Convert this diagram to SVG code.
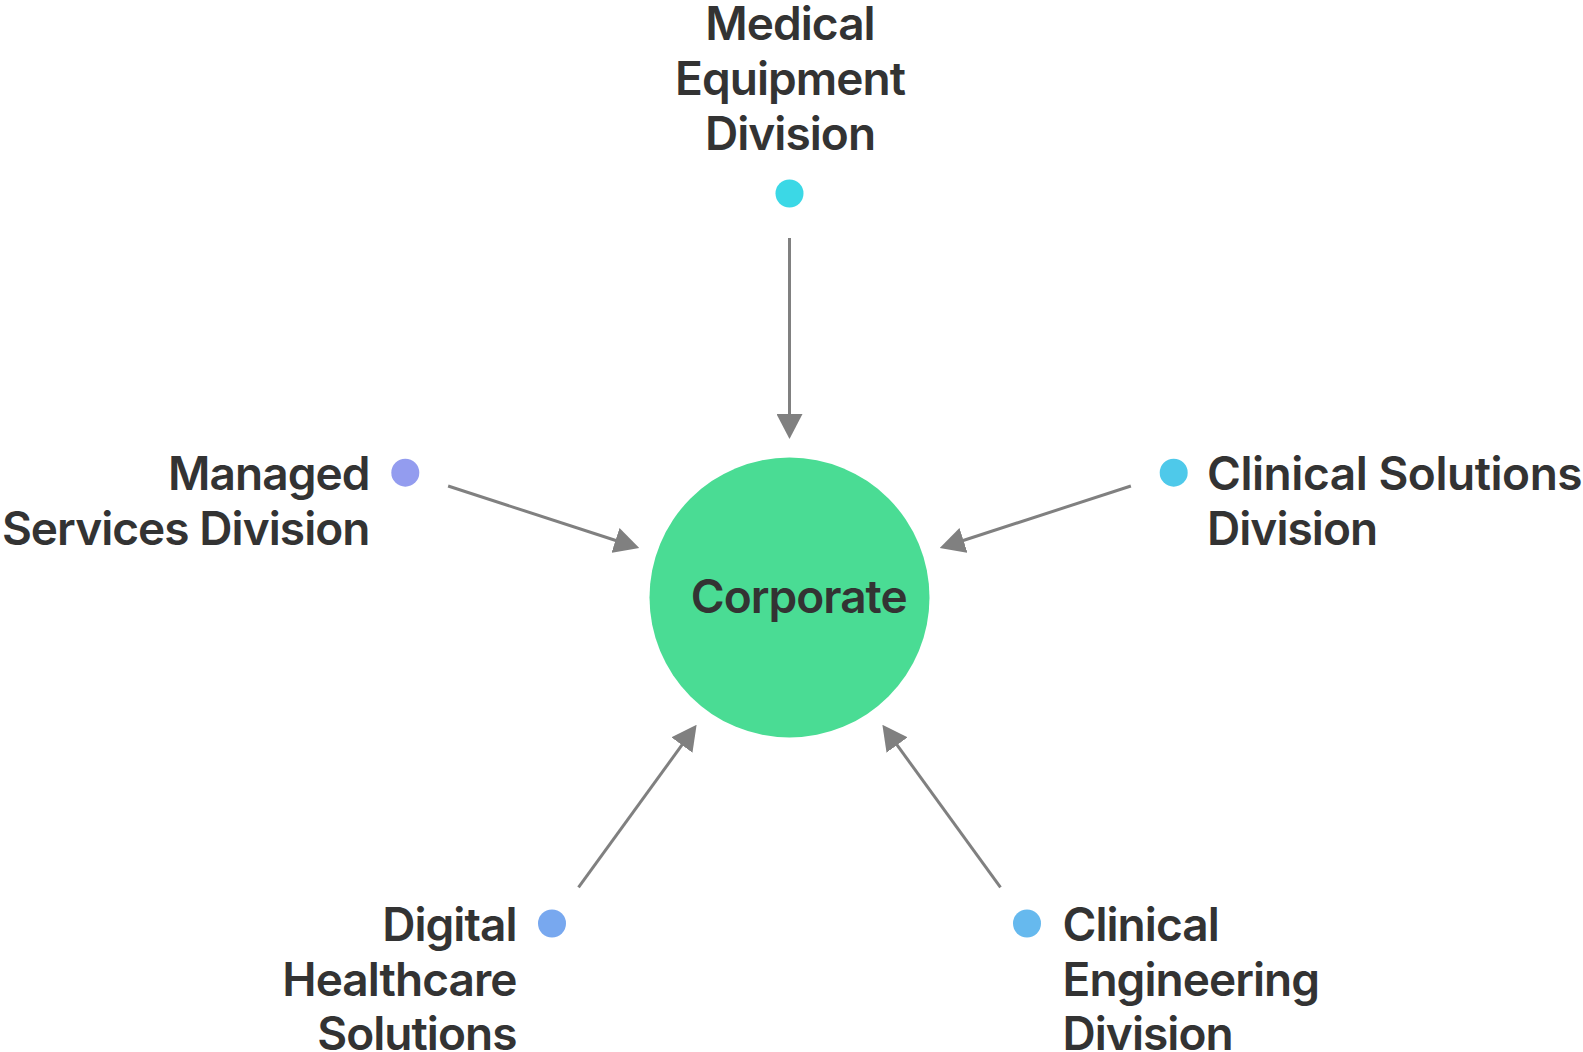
<svg xmlns="http://www.w3.org/2000/svg" width="1583" height="1052" viewBox="0 0 1583 1052">
<style>
.t{font-family:Inter,"Liberation Sans",sans-serif;font-weight:600;font-size:46px;fill:#333333;letter-spacing:-0.95px}
.c{stroke:#808080;stroke-width:3;fill:none}
</style>
<defs>
<marker id="ah" markerUnits="userSpaceOnUse" viewBox="0 0 25 26" markerWidth="25" markerHeight="26" refX="2" refY="13" orient="auto">
<path d="M0,0 L25,13 L0,26 Z" fill="#808080"/>
</marker>
</defs>
<rect width="1583" height="1052" fill="#ffffff"/>
<g id="connectors">
<line class="c" x1="789.5" y1="238" x2="789.5" y2="416" marker-end="url(#ah)"/>
<line class="c" x1="1130.9" y1="486" x2="961.6" y2="541" marker-end="url(#ah)"/>
<line class="c" x1="1000.5" y1="887.4" x2="895.9" y2="743.4" marker-end="url(#ah)"/>
<line class="c" x1="578.5" y1="887.4" x2="683.1" y2="743.4" marker-end="url(#ah)"/>
<line class="c" x1="448.1" y1="486" x2="617.4" y2="541" marker-end="url(#ah)"/>
</g>
<g id="corporate">
<circle cx="789.5" cy="597.5" r="140" fill="#4adc94"/>
<text class="t" x="798.7" y="613" text-anchor="middle">Corporate</text>
</g>
<g id="medical-equipment">
<circle cx="789.5" cy="193.5" r="14" fill="#3bd8e6"/>
<text class="t" text-anchor="middle"><tspan x="790" y="40">Medical</tspan><tspan x="790" y="95">Equipment</tspan><tspan x="790" y="150">Division</tspan></text>
</g>
<g id="clinical-solutions">
<circle cx="1173.7" cy="472.7" r="14" fill="#4ec9ea"/>
<text class="t"><tspan x="1207" y="490" style="letter-spacing:-0.45px">Clinical Solutions</tspan><tspan x="1207" y="545">Division</tspan></text>
</g>
<g id="clinical-engineering">
<circle cx="1027" cy="923.5" r="14" fill="#66b9ee"/>
<text class="t"><tspan x="1062.5" y="941">Clinical</tspan><tspan x="1062.5" y="996">Engineering</tspan><tspan x="1062.5" y="1050">Division</tspan></text>
</g>
<g id="digital-healthcare">
<circle cx="552" cy="923.5" r="14" fill="#78a8ef"/>
<text class="t" text-anchor="end"><tspan x="516.5" y="941">Digital</tspan><tspan x="516.5" y="996">Healthcare</tspan><tspan x="516.5" y="1050">Solutions</tspan></text>
</g>
<g id="managed-services">
<circle cx="405.3" cy="472.7" r="14" fill="#939cef"/>
<text class="t" text-anchor="end"><tspan x="369.5" y="490">Managed</tspan><tspan x="369.5" y="545">Services Division</tspan></text>
</g>
</svg>
